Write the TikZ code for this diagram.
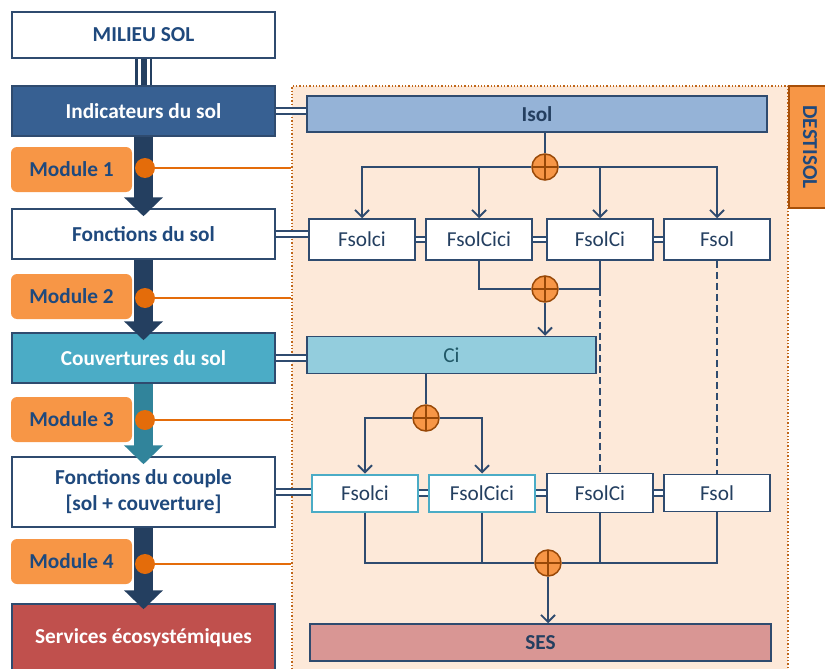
\documentclass[tikz,border=0pt]{standalone}
\usepackage{fontspec}
\setmainfont{Carlito}
\usetikzlibrary{arrows.meta, positioning, calc}

\definecolor{bleutxt}{HTML}{1F497D}
\definecolor{bleunuit}{HTML}{243F60}
\definecolor{bord}{HTML}{2F4B6F}
\definecolor{indic}{HTML}{376092}
\definecolor{couvc}{HTML}{4BACC6}
\definecolor{sarc}{HTML}{31849B}
\definecolor{servc}{HTML}{C0504D}
\definecolor{modo}{HTML}{F79646}
\definecolor{orpuce}{HTML}{E46C0A}
\definecolor{brun}{HTML}{984807}
\definecolor{peche}{HTML}{FDE9D9}
\definecolor{isolc}{HTML}{95B3D7}
\definecolor{cic}{HTML}{93CDDD}
\definecolor{sesc}{HTML}{D99694}
\definecolor{citxt}{HTML}{215968}
\definecolor{cadrec}{HTML}{C0661A}

\begin{document}
\begin{tikzpicture}[x=1pt, y=-1pt, font=\fontsize{21.3}{26}\selectfont,
  >={Straight Barb[length=7pt, width=14pt]},
  gauche/.style={draw=bord, line width=1.5pt, minimum width=263pt, inner sep=0pt, align=center, text=bleutxt, font=\fontsize{21.3}{26}\selectfont\bfseries},
  module/.style={fill=modo, rounded corners=6pt, minimum width=121pt, minimum height=45pt, inner sep=0pt, text=bleutxt, font=\fontsize{21.3}{26}\selectfont\bfseries},
  puce/.style={circle, fill=orpuce, minimum size=20pt, inner sep=0pt},
  fonc/.style={draw=bord, line width=1.5pt, fill=white, minimum width=106pt, inner sep=0pt, text=bleunuit},
  barre/.style={draw=bord, line width=1.5pt, minimum height=36pt, inner sep=0pt, text=bleunuit},
  somme/.style={circle, draw=brun, fill=modo, line width=1.5pt, minimum size=26pt, inner sep=0pt,
    path picture={\draw[brun, line width=1.5pt] (path picture bounding box.north) -- (path picture bounding box.south)
      (path picture bounding box.west) -- (path picture bounding box.east);}},
  flux/.style={draw=bord, line width=1.8pt},
  tirets/.style={dash pattern=on 7pt off 4pt},
  lien/.style={draw=bord, line width=2pt, double=white, double distance=3.5pt},
  fleche/.style={line width=19pt, -{Triangle[length=19pt, width=38pt]}},
  sortie/.style={draw=orpuce, line width=1.6pt}]
\useasboundingbox (0,0) rectangle (825,669);
% cadre DESTISOL
\node[fill=peche, draw=cadrec, dotted, line width=1.3pt, minimum width=496pt, minimum height=594pt] (cadre) at (540,383) {};
\node[fill=modo, draw=brun!80!orpuce, line width=1.5pt, minimum width=122pt, minimum height=42pt, rotate=-90,
  text=bleutxt, font=\fontsize{21.3}{26}\selectfont\bfseries] (destisol) at (810,147) {DESTISOL};
% colonne de gauche
\node[gauche, fill=white, minimum height=46pt] (milieu) at (143.5,35) {MILIEU SOL};
\node[gauche, fill=indic, text=white, minimum height=50pt] (ind) at (143.5,111) {Indicateurs du sol};
\node[gauche, fill=white, minimum height=50pt] (fsol) at (143.5,234) {Fonctions du sol};
\node[gauche, fill=couvc, text=white, minimum height=50pt] (couv) at (143.5,358) {Couvertures du sol};
\node[gauche, fill=white, minimum height=70pt] (couple) at (143.5,492) {Fonctions du couple\\{}[sol + couverture]};
\node[gauche, fill=servc, text=white, minimum height=68pt] (serv) at (143.5,638) {Services écosystémiques};
% modules
\node[module] (m1) at (71.5,169.5) {Module 1};
\node[module] (m2) at (71.5,296.5) {Module 2};
\node[module] (m3) at (71.5,419.5) {Module 3};
\node[module] (m4) at (71.5,561.5) {Module 4};
% liaisons entre blocs
\draw[bleunuit, line width=17pt] (milieu.south) -- (ind.north);
\draw[white, line width=12pt] (milieu.south) -- (ind.north);
\draw[bleunuit, line width=6pt] ([xshift=0.5pt]milieu.south) -- ([xshift=0.5pt]ind.north);
\draw[fleche, bleunuit] (ind.south) -- ([yshift=-8pt]fsol.north);
\draw[fleche, bleunuit] (fsol.south) -- ([yshift=-8pt]couv.north);
\draw[fleche, sarc] (couv.south) -- ([yshift=-8pt]couple.north);
\draw[fleche, bleunuit] (couple.south) -- ([yshift=-6pt]serv.north);
% pastilles
\node[puce] (p1) at (145,168) {};
\node[puce] (p2) at (145,298) {};
\node[puce] (p3) at (145,420) {};
\node[puce] (p4) at (145,564) {};
\foreach \p in {p1,p2,p3,p4}
  \draw[sortie] (\p.east) -- (\p -| cadre.west);
% blocs de droite
\node[barre, fill=isolc, minimum width=460pt, font=\fontsize{21.3}{26}\selectfont\bfseries] (isol) at (537,114) {Isol};
\node[fonc, minimum height=41pt] (f1a) at (362,239.5) {Fsolci};
\node[fonc, minimum height=41pt] (f1b) at (479,239.5) {FsolCici};
\node[fonc, minimum height=41pt] (f1c) at (600,239.5) {FsolCi};
\node[fonc, minimum height=41pt] (f1d) at (717,239.5) {Fsol};
\node[barre, fill=cic, text=citxt, minimum width=289pt, minimum height=37pt] (ci) at (451.5,355) {Ci};
\node[fonc, draw=couvc, line width=2pt, minimum height=37pt] (f2a) at (365,493) {Fsolci};
\node[fonc, draw=couvc, line width=2pt, minimum height=37pt] (f2b) at (482,493) {FsolCici};
\node[fonc, minimum height=39pt] (f2c) at (600,493) {FsolCi};
\node[fonc, minimum height=37pt] (f2d) at (717,493) {Fsol};
\node[barre, fill=sesc, minimum width=461pt, minimum height=37pt, font=\fontsize{21.3}{26}\selectfont\bfseries] (ses) at (540.5,642.5) {SES};
% sommes
\node[somme] (s1) at (545,167) {};
\node[somme] (s2) at (545,289) {};
\node[somme] (s3) at (426,418) {};
\node[somme] (s4) at (548,563) {};
% doubles traits
\draw[lien] (ind.east) -- (ind.east -| isol.west);
\draw[lien] (fsol.east) -- (fsol.east -| f1a.west);
\draw[lien] (couv.east) -- (couv.east -| ci.west);
\draw[lien] (couple.east) -- (couple.east -| f2a.west);
\foreach \a/\b in {f1a/f1b,f1b/f1c,f1c/f1d,f2a/f2b,f2b/f2c,f2c/f2d}
  \draw[lien] (\a.east) -- (\b.west);
% flux
\draw[flux] (s1 |- isol.south) -- (s1.north);
\draw[flux, ->] (s1.west) -| (f1a.north);
\draw[flux, ->] (s1.west) -| (f1b.north);
\draw[flux, ->] (s1.east) -| (f1c.north);
\draw[flux, ->] (s1.east) -| (f1d.north);
\draw[flux] (f1b.south) |- (s2.west);
\draw[flux] (f1c.south) |- (s2.east);
\draw[flux, ->] (s2.south) -- (s2 |- ci.north);
\draw[flux, tirets] (f1c |- s2) -- (f2c.north);
\draw[flux, tirets] (f1d.south) -- (f2d.north);
\draw[flux] (s3 |- ci.south) -- (s3.north);
\draw[flux, ->] (s3.west) -| (f2a.north);
\draw[flux, ->] (s3.east) -| (f2b.north);
\draw[flux] (f2a.south) |- (s4.west);
\draw[flux] (f2b.south) |- (s4.west);
\draw[flux] (f2c.south) |- (s4.east);
\draw[flux] (f2d.south) |- (s4.east);
\draw[flux, ->] (s4.south) -- (s4 |- ses.north);
\end{tikzpicture}
\end{document}
